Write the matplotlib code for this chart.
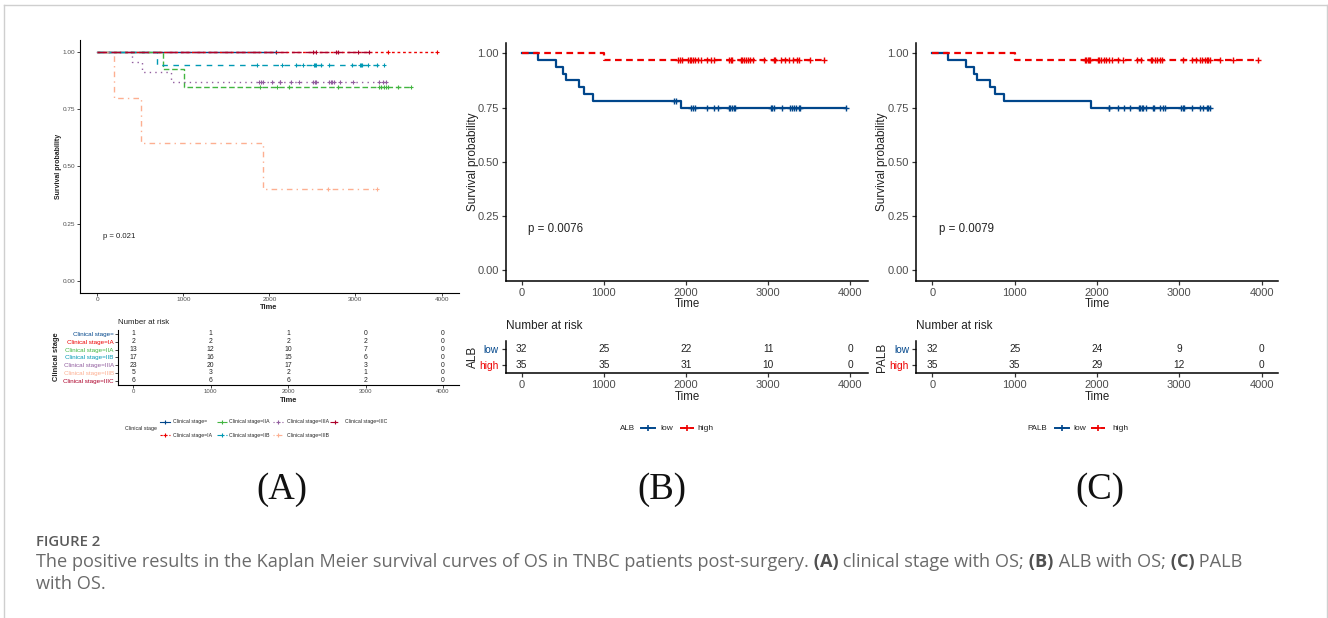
import matplotlib.pyplot as plt
from matplotlib.lines import Line2D

W, H = 1328, 618
plt.rcParams['font.family'] = ['Liberation Sans', 'DejaVu Sans']

# lancet palette used by the survminer plots
lancet = ["#00468B", "#ED0000", "#42B540", "#0099B4", "#925E9F", "#FDAF91", "#AD002A"]
risk_times = [0, 1000, 2000, 3000, 4000]

# ---- panel A: clinical stage ----
stage_names = ["Clinical stage=", "Clinical stage=IA", "Clinical stage=IIA", "Clinical stage=IIB",
               "Clinical stage=IIIA", "Clinical stage=IIIB", "Clinical stage=IIIC"]
stage_n = [1, 2, 13, 17, 23, 5, 6]
stage_events = [[], [], [765, 1005], [695], [400, 523, 856], [195, 505, 1930], []]
stage_censors = [
    [2075],
    [3375, 3950],
    [1895, 2085, 2225, 2800, 3270, 3300, 3330, 3350, 3380, 3490, 3650],
    [1860, 2150, 2310, 2390, 2515, 2530, 2545, 2600, 2690, 2960, 3050, 3065, 3075, 3150, 3250, 3330],
    [1885, 1905, 1925, 2025, 2120, 2125, 2255, 2340, 2510, 2525, 2540, 2690, 2710, 2730, 2745,
     2820, 2975, 3275, 3320, 3360],
    [2680, 3245],
    [2505, 2540, 2770, 2800, 3030, 3155],
]
stage_risk = [[1, 1, 1, 0, 0], [2, 2, 2, 2, 0], [13, 12, 10, 7, 0], [17, 16, 15, 6, 0],
              [23, 20, 17, 3, 0], [5, 3, 2, 1, 0], [6, 6, 6, 2, 0]]
stage_p = "p = 0.021"

# ---- panel B: ALB ----
alb_n = [32, 35]
alb_events = [[195, 415, 505, 540, 700, 760, 865, 1935], [1005]]
alb_censors = [
    [1850, 1880, 2060, 2085, 2110, 2260, 2345, 2395, 2520, 2535, 2560, 2585, 2600,
     3040, 3050, 3065, 3165, 3270, 3290, 3320, 3340, 3370, 3385, 3950],
    [1905, 1925, 1945, 2030, 2045, 2060, 2090, 2110, 2140, 2180, 2250, 2300, 2335, 2525, 2545,
     2560, 2665, 2685, 2705, 2725, 2750, 2780, 2815, 2945,
     3065, 3085, 3155, 3210, 3250, 3300, 3350, 3370, 3515, 3675],
]
alb_risk = [[32, 25, 22, 11, 0], [35, 35, 31, 10, 0]]
alb_p = "p = 0.0076"

# ---- panel C: PALB ----
palb_n = [32, 35]
palb_events = [[195, 415, 505, 540, 700, 760, 865, 1927], [1005]]
palb_censors = [
    [2140, 2150, 2260, 2330, 2400, 2515, 2525, 2545, 2560, 2600, 2675, 2690, 2765, 2805, 2820,
     3025, 3045, 3060, 3150, 3250, 3290, 3330, 3350, 3372],
    [1855, 1870, 1885, 1900, 1915, 2010, 2030, 2050, 2090, 2110, 2140, 2180, 2250, 2320, 2490,
     2540, 2650, 2670, 2700, 2730, 2760, 2790,
     3050, 3150, 3200, 3250, 3280, 3310, 3330, 3350, 3372, 3495, 3655, 3955],
]
palb_risk = [[32, 25, 24, 9, 0], [35, 35, 29, 12, 0]]
palb_p = "p = 0.0079"

lowhigh = ["low", "high"]


def km(n, events, censors):
    times = sorted(set(events) | set(censors))
    at_risk, s = n, 1.0
    xs, ys, cx, cy = [0], [1.0], [], []
    for t in times:
        d, c = events.count(t), censors.count(t)
        if d:
            s *= (at_risk - d) / at_risk
            xs.append(t); ys.append(s)
        if c:
            cx.append(t); cy.append(s)
        at_risk -= d + c
    xs.append(times[-1]); ys.append(s)
    return xs, ys, cx, cy


def px_axes(l, t, r, b):
    return fig.add_axes([l / W, 1 - b / H, (r - l) / W, (b - t) / H])


def style_axes(ax, lw, tick_fs, tick_len, pad):
    for side in ['top', 'right']:
        ax.spines[side].set_visible(False)
    for side in ['left', 'bottom']:
        ax.spines[side].set_linewidth(lw)
    ax.tick_params(labelsize=tick_fs, length=tick_len, width=lw * 0.8, pad=pad,
                   colors='#333333', labelcolor='#4d4d4d')
    ax.set_xticks(risk_times)


fig = plt.figure(figsize=(W / 100, H / 100), dpi=100)


def survival_panel(box, xlim, n, events, censors, colors, styles, lw, ms, mew, ptext, p_xy, p_fs,
                   axlw, tick_fs, tick_len, pad):
    ax = px_axes(*box)
    for i in range(len(n)):
        xs, ys, cx, cy = km(n[i], events[i], censors[i])
        ax.plot(xs, ys, drawstyle='steps-post', color=colors[i], ls=styles[i], lw=lw)
        ax.plot(cx, cy, ls='none', marker='+', ms=ms, mew=mew, color=colors[i])
    ax.set_xlim(*xlim)
    ax.set_ylim(-0.05, 1.05)
    ax.set_yticks([0, 0.25, 0.5, 0.75, 1.0])
    ax.set_yticklabels(['0.00', '0.25', '0.50', '0.75', '1.00'])
    style_axes(ax, axlw, tick_fs, tick_len, pad)
    ax.text(p_xy[0], p_xy[1], ptext, fontsize=p_fs, va='center', color='#222222')
    return ax


def risk_table(box, xlim, ylim, risk, labels, colors, num_fs, lab_fs, tick_fs, axlw, tick_len, pad):
    ax = px_axes(*box)
    for i, row in enumerate(risk):
        for t, v in zip(risk_times, row):
            ax.text(t, i, str(v), ha='center', va='center', fontsize=num_fs, color='#222222')
    ax.set_xlim(*xlim)
    ax.set_ylim(*ylim)
    ax.set_yticks(range(len(risk)))
    ax.set_yticklabels(labels)
    style_axes(ax, axlw, tick_fs, tick_len, pad)
    ax.tick_params(axis='y', labelsize=lab_fs)
    for lab, c in zip(ax.get_yticklabels(), colors):
        lab.set_color(c)
    return ax


stage_styles = ['-', (0, (2, 2)), (0, (4, 2)), (0, (4, 4)), (0, (1, 3)), (0, (1, 3, 4, 3)), (0, (7, 3))]
survival_panel((80, 40.2, 458.8, 292.5), (-200, 4200), stage_n, stage_events, stage_censors,
               lancet, stage_styles, 1.0, 3.5, 0.8, stage_p, (70, 0.193), 5.6, 0.8, 4.6, 2, 1.2)
risk_table((117.8, 330, 458.5, 385), (-200, 4200), (6.55, -0.51), stage_risk, stage_names, lancet,
           4.9, 4.5, 4.3, 0.8, 2, 1.0)

lh_colors = [lancet[0], lancet[1]]
lh_styles = ['-', (0, (3, 2))]
survival_panel((505.7, 42.5, 868, 281), (-195, 4215), alb_n, alb_events, alb_censors,
               lh_colors, lh_styles, 1.6, 5, 1.0, alb_p, (80, 0.188), 8.3, 1.1, 8, 3, 2)
risk_table((505.7, 341, 868, 373), (-195, 4215), (1.51, -0.53), alb_risk, lowhigh, lh_colors,
           7.3, 7.3, 8, 1.1, 3, 2)

survival_panel((916, 42.5, 1278, 281), (-198, 4198), palb_n, palb_events, palb_censors,
               lh_colors, lh_styles, 1.6, 5, 1.0, palb_p, (80, 0.188), 8.3, 1.1, 8, 3, 2)
risk_table((916, 341, 1278, 373.3), (-198, 4198), (1.51, -0.53), palb_risk, lowhigh, lh_colors,
           7.3, 7.3, 8, 1.1, 3, 2)

# overlay in pixel coordinates for labels, legends and caption
ov = fig.add_axes([0, 0, 1, 1], zorder=10)
ov.set_xlim(0, W)
ov.set_ylim(H, 0)
ov.axis('off')
ov.patch.set_alpha(0)

border = '#cfcfcf'
ov.plot([4, 4], [5, H], color=border, lw=1)
ov.plot([4, 1327], [5, 5], color=border, lw=1)
ov.plot([1327, 1327], [5, H], color=border, lw=1)

txt = '#222222'
# panel A labels
ov.text(58, 166, "Survival probability", rotation=90, ha='center', va='center', fontsize=5, fontweight='bold', color=txt)
ov.text(269, 307.7, "Time", ha='center', va='center', fontsize=5.4, fontweight='bold', color=txt)
ov.text(118, 322, "Number at risk", ha='left', va='center', fontsize=5.7, color=txt)
ov.text(57, 357, "Clinical stage", rotation=90, ha='center', va='center', fontsize=5.4, fontweight='bold', color=txt)
ov.text(289, 400, "Time", ha='center', va='center', fontsize=5.4, fontweight='bold', color=txt)
ov.text(141, 428.7, "Clinical stage", ha='center', va='center', fontsize=3.8, color=txt)
key_x = [165, 222, 278, 335]
text_x = [173, 229, 287, 345]
rows_y = [421.7, 435]
for i, name in enumerate(stage_names):
    col, row = i // 2, i % 2
    y = rows_y[row]
    ov.add_line(Line2D([key_x[col] - 5, key_x[col] + 5], [y, y], color=lancet[i], ls=stage_styles[i], lw=0.8))
    ov.plot(key_x[col], y, marker='+', ms=3, mew=0.8, color=lancet[i])
    ov.text(text_x[col], y, name, ha='left', va='center', fontsize=3.7, color=txt)

# panels B and C labels
for x0, x_axis, x_mid, name, leg in [(473, 505.7, 686.9, "ALB", (620, 648, 660, 687, 697)),
                                      (882, 916, 1097, "PALB", (1027, 1062, 1073, 1098, 1112))]:
    ov.text(x0, 162, "Survival probability", rotation=90, ha='center', va='center', fontsize=8.5, color=txt)
    ov.text(x_mid, 304, "Time", ha='center', va='center', fontsize=8.3, color=txt)
    ov.text(x_axis, 326, "Number at risk", ha='left', va='center', fontsize=8.5, color=txt)
    ov.text(x0, 357, name, rotation=90, ha='center', va='center', fontsize=8.5, color=txt)
    ov.text(x_mid, 396.7, "Time", ha='center', va='center', fontsize=8.3, color=txt)
    ov.text(leg[0], 428, name, ha='left', va='center', fontsize=5.8, color=txt)
    for k, (kx, tx) in enumerate([(leg[1], leg[2]), (leg[3], leg[4])]):
        ov.add_line(Line2D([kx - 7, kx + 7], [428, 428], color=lh_colors[k], ls=lh_styles[k], lw=1.4))
        ov.plot(kx, 428, marker='+', ms=5, mew=1.2, color=lh_colors[k])
        ov.text(tx, 428, lowhigh[k], ha='left', va='center', fontsize=6, color=txt)

for x, lab in [(282, "(A)"), (662, "(B)"), (1100, "(C)")]:
    ov.text(x, 490, lab, ha='center', va='center', fontsize=26.5, family='Liberation Serif', color='#111111')

# caption
cap = '#6a6a6a'
cap_fs = 13.1
ov.text(36, 542, "FIGURE 2", ha='left', va='center', fontsize=10.7, family='Open Sans', fontweight='semibold', color='#5a5a5a')
parts = [("The positive results in the Kaplan Meier survival curves of OS in TNBC patients post-surgery.", 'normal'),
         (" (A)", 'bold'), (" clinical stage with OS;", 'normal'), (" (B)", 'bold'),
         (" ALB with OS;", 'normal'), (" (C)", 'bold'), (" PALB", 'normal')]
prev = ov.text(36, 562, parts[0][0], ha='left', va='center', fontsize=cap_fs, family='Open Sans', color=cap)
for s, w in parts[1:]:
    prev = ov.annotate(s, xy=(1, 0), xycoords=prev, ha='left', va='bottom', fontsize=cap_fs,
                       family='Open Sans', fontweight=w, color='#505050' if w == 'bold' else cap)
ov.text(36, 584, "with OS.", ha='left', va='center', fontsize=cap_fs, family='Open Sans', color=cap)

fig.savefig('out.png', dpi=100)
